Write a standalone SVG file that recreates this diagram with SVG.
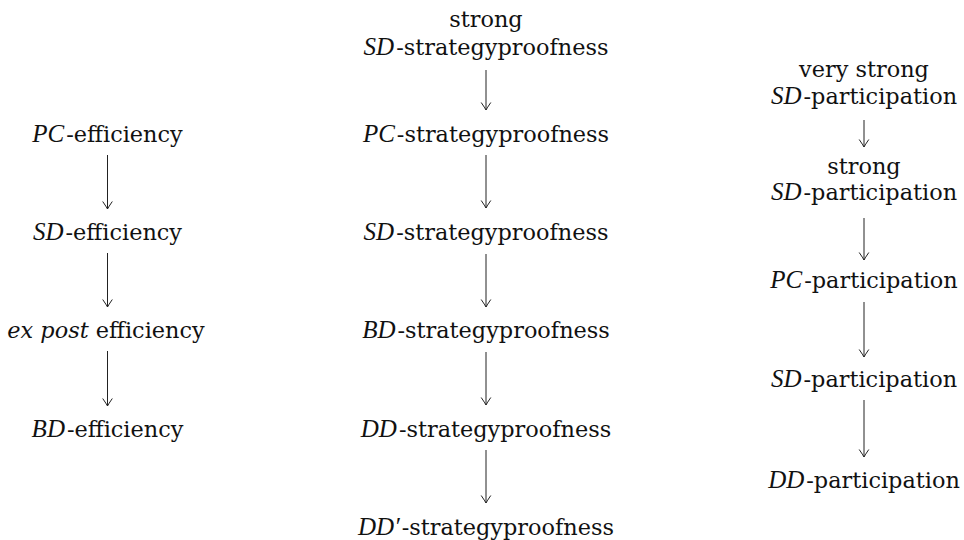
<svg xmlns="http://www.w3.org/2000/svg" width="964" height="540" viewBox="0 0 964 540">
<style>
  text { font-family: "DejaVu Serif", "Liberation Serif", serif; font-size: 22.4px; fill: #111; text-anchor: middle; }
  .m { font-family: "Liberation Serif", "DejaVu Serif", serif; font-style: italic; font-size: 25px; }
  .h { }
  .it { font-style: italic; }
  .edge { stroke: #222; stroke-width: 1; fill: none; marker-end: url(#arr); }
</style>
<defs>
  <marker id="arr" markerUnits="userSpaceOnUse" viewBox="-10 -10 20 20" markerWidth="20" markerHeight="20" refX="0" refY="0" orient="auto" overflow="visible">
    <path d="M-7.5,-4.8 Q-2,-1 0,0 Q-2,1 -7.5,4.8" fill="none" stroke="#222" stroke-width="1"/>
  </marker>
</defs>
<rect width="964" height="540" fill="#fff"/>

<g id="connectors">
  <line class="edge" x1="107.5" y1="155" x2="107.5" y2="209"/>
  <line class="edge" x1="107.5" y1="253" x2="107.5" y2="307"/>
  <line class="edge" x1="107.5" y1="351" x2="107.5" y2="406"/>

  <line class="edge" x1="486" y1="70" x2="486" y2="110"/>
  <line class="edge" x1="486" y1="155" x2="486" y2="208"/>
  <line class="edge" x1="486" y1="254" x2="486" y2="307"/>
  <line class="edge" x1="486" y1="352" x2="486" y2="405"/>
  <line class="edge" x1="486" y1="450" x2="486" y2="503"/>

  <line class="edge" x1="864" y1="120" x2="864" y2="147"/>
  <line class="edge" x1="864" y1="218" x2="864" y2="260"/>
  <line class="edge" x1="864" y1="302" x2="864" y2="357"/>
  <line class="edge" x1="864" y1="400" x2="864" y2="457"/>
</g>

<g id="pc-efficiency"><text x="107.5" y="141.5"><tspan class="m">PC</tspan><tspan dx="2">-efficiency</tspan></text></g>
<g id="sd-efficiency"><text x="107.5" y="240"><tspan class="m">SD</tspan><tspan dx="2">-efficiency</tspan></text></g>
<g id="expost-efficiency"><text x="106" y="338"><tspan class="it">ex post</tspan> efficiency</text></g>
<g id="bd-efficiency"><text x="107.5" y="436.5"><tspan class="m">BD</tspan><tspan dx="2">-efficiency</tspan></text></g>

<g id="strong-sd-sp"><text x="486" y="27">strong</text><text x="486" y="55"><tspan class="m">SD</tspan><tspan dx="2">-strategyproofness</tspan></text></g>
<g id="pc-sp"><text x="486" y="141.5"><tspan class="m">PC</tspan><tspan dx="2">-strategyproofness</tspan></text></g>
<g id="sd-sp"><text x="486" y="240"><tspan class="m">SD</tspan><tspan dx="2">-strategyproofness</tspan></text></g>
<g id="bd-sp"><text x="486" y="338"><tspan class="m">BD</tspan><tspan dx="2">-strategyproofness</tspan></text></g>
<g id="dd-sp"><text x="486" y="436.5"><tspan class="m">DD</tspan><tspan dx="2">-strategyproofness</tspan></text></g>
<g id="ddp-sp"><text x="486" y="535"><tspan class="m">DD′</tspan><tspan dx="2">-strategyproofness</tspan></text></g>

<g id="vstrong-sd-part"><text x="864" y="77">very strong</text><text x="864" y="103.5"><tspan class="m">SD</tspan><tspan dx="2">-participation</tspan></text></g>
<g id="strong-sd-part"><text x="864" y="173.5">strong</text><text x="864" y="200"><tspan class="m">SD</tspan><tspan dx="2">-participation</tspan></text></g>
<g id="pc-part"><text x="864" y="288"><tspan class="m">PC</tspan><tspan dx="2">-participation</tspan></text></g>
<g id="sd-part"><text x="864" y="387"><tspan class="m">SD</tspan><tspan dx="2">-participation</tspan></text></g>
<g id="dd-part"><text x="864" y="488"><tspan class="m">DD</tspan><tspan dx="2">-participation</tspan></text></g>
</svg>
